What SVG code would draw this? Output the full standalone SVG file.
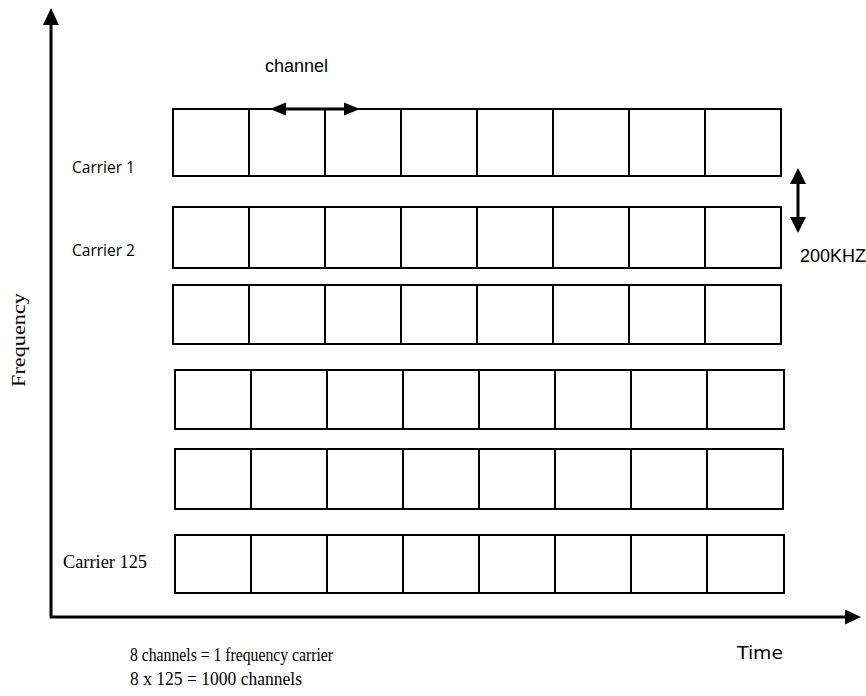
<svg xmlns="http://www.w3.org/2000/svg" width="866" height="696" viewBox="0 0 866 696">
<style>
.cell{fill:#fff;stroke:#000;stroke-width:2}
.ax{stroke:#000;stroke-width:3;fill:none}
.arr{stroke:#000;stroke-width:3;fill:none}
.sans{font-family:"Liberation Sans",Arial,sans-serif;font-size:18px;fill:#000}
.cal{font-family:"Open Sans","Liberation Sans",sans-serif;font-size:15.5px;fill:#000}
.ser{font-family:"Liberation Serif","Times New Roman",serif;font-size:18px;fill:#000}
.dv{font-family:"DejaVu Sans",sans-serif;font-size:18px;fill:#000}
</style>
<rect width="866" height="696" fill="#fff"/>
<g id="axes">
<line class="ax" x1="51" y1="22" x2="51" y2="618"/>
<polygon points="51,8 43,25 59,25" fill="#000"/>
<line class="ax" x1="50" y1="617" x2="847" y2="617"/>
<polygon points="861,617 845,609.5 845,624.5" fill="#000"/>
</g>
<g id="carrier1">
<rect class="cell" x="173" y="109" width="608" height="67"/>
<path class="cell" d="M249,109V176M325,109V176M401,109V176M477,109V176M553,109V176M629,109V176M705,109V176"/>
</g>
<g id="carrier2">
<rect class="cell" x="173" y="207" width="608" height="61"/>
<path class="cell" d="M249,207V268M325,207V268M401,207V268M477,207V268M553,207V268M629,207V268M705,207V268"/>
</g>
<g id="carrier3">
<rect class="cell" x="173" y="285" width="608" height="59"/>
<path class="cell" d="M249,285V344M325,285V344M401,285V344M477,285V344M553,285V344M629,285V344M705,285V344"/>
</g>
<g id="carrier4">
<rect class="cell" x="175" y="370" width="609" height="59"/>
<path class="cell" d="M251,370V429M327,370V429M403,370V429M479,370V429M555,370V429M631,370V429M707,370V429"/>
</g>
<g id="carrier5">
<rect class="cell" x="175" y="449" width="608" height="60"/>
<path class="cell" d="M251,449V509M327,449V509M403,449V509M479,449V509M555,449V509M631,449V509M707,449V509"/>
</g>
<g id="carrier125">
<rect class="cell" x="175" y="535" width="609" height="58"/>
<path class="cell" d="M251,535V593M327,535V593M403,535V593M479,535V593M555,535V593M631,535V593M707,535V593"/>
</g>
<g id="connectors">
<line class="arr" x1="284" y1="109" x2="346" y2="109"/>
<polygon points="270,109 286,102.5 286,115.5" fill="#000"/>
<polygon points="360,109 344,102.5 344,115.5" fill="#000"/>
<line class="arr" x1="798" y1="182" x2="798" y2="219"/>
<polygon points="798,168 790,184 806,184" fill="#000"/>
<polygon points="798,233 790,217 806,217" fill="#000"/>
</g>
<g id="labels">
<text class="sans" x="265" y="72" textLength="63" lengthAdjust="spacingAndGlyphs">channel</text>
<text class="sans" x="800" y="262" textLength="66" lengthAdjust="spacingAndGlyphs">200KHZ</text>
<text class="cal" x="72" y="173" textLength="63" lengthAdjust="spacingAndGlyphs">Carrier 1</text>
<text class="cal" x="72" y="256" textLength="63" lengthAdjust="spacingAndGlyphs">Carrier 2</text>
<text class="ser" x="63" y="568" textLength="84" lengthAdjust="spacingAndGlyphs">Carrier 125</text>
<text class="ser" transform="translate(25,340) rotate(-90)" text-anchor="middle" x="0" y="0" textLength="94" lengthAdjust="spacingAndGlyphs">Frequency</text>
<text class="dv" x="737" y="659" textLength="46" lengthAdjust="spacingAndGlyphs">Time</text>
<text class="ser" x="130" y="661" textLength="203" lengthAdjust="spacingAndGlyphs">8 channels = 1 frequency carrier</text>
<text class="ser" x="130" y="685" textLength="172" lengthAdjust="spacingAndGlyphs">8 x 125 = 1000 channels</text>
</g>
</svg>
